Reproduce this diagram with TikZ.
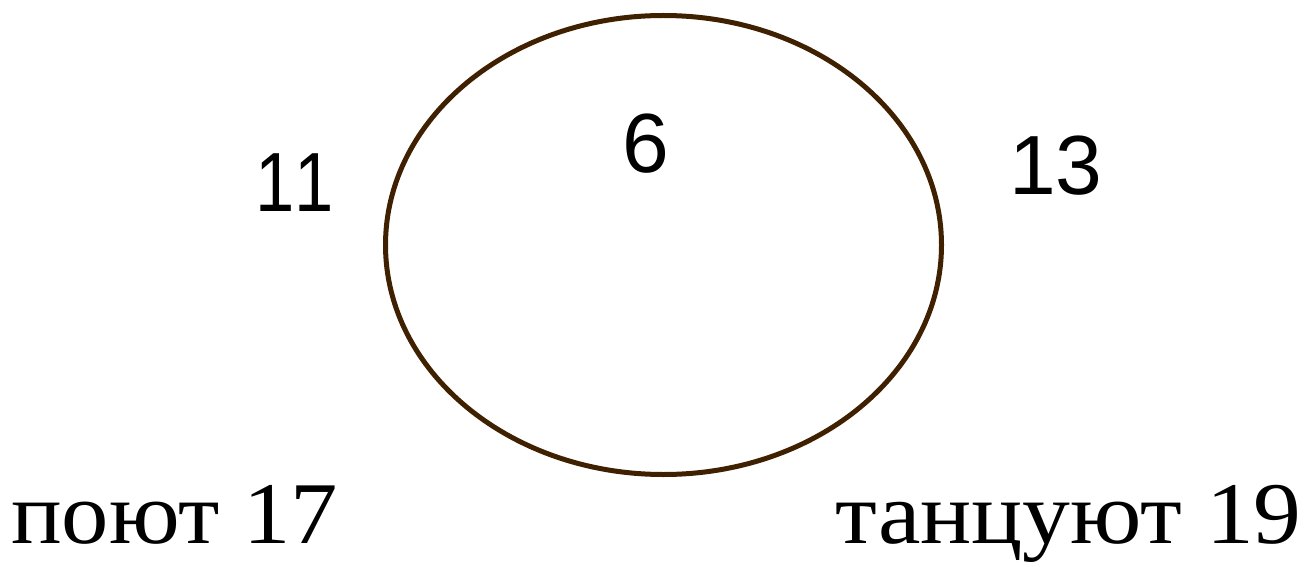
\documentclass[tikz,border=0pt]{standalone}
\usepackage{fontspec}
\setmainfont{Liberation Serif}
\newfontfamily\numfont[Kerning=Off]{Liberation Sans}
\definecolor{ringbrown}{HTML}{3F2000}
\begin{document}
\begin{tikzpicture}[x=1pt,y=-1pt,
  num/.style={inner sep=0pt, anchor=base, font=\numfont\fontsize{84}{88}\selectfont},
  lab/.style={inner sep=0pt, xscale=1.075, font=\fontsize{88}{92}\selectfont}]
\useasboundingbox (0,0) rectangle (1309,567);
\draw[ringbrown, line width=5pt] (663.5,245) ellipse [x radius=278, y radius=229.5];
\node[num, xscale=0.84] (n11) at (295,211) {11};
\node[num] (n6) at (646,172) {6};
\node[num] (n13) at (1056,194) {13};
\node[lab, anchor=base west] (sing) at (11,543) {поют 17};
\node[lab, anchor=base east, xscale=1.01] (dance) at (1302,543) {танцуют 19};
\end{tikzpicture}
\end{document}
